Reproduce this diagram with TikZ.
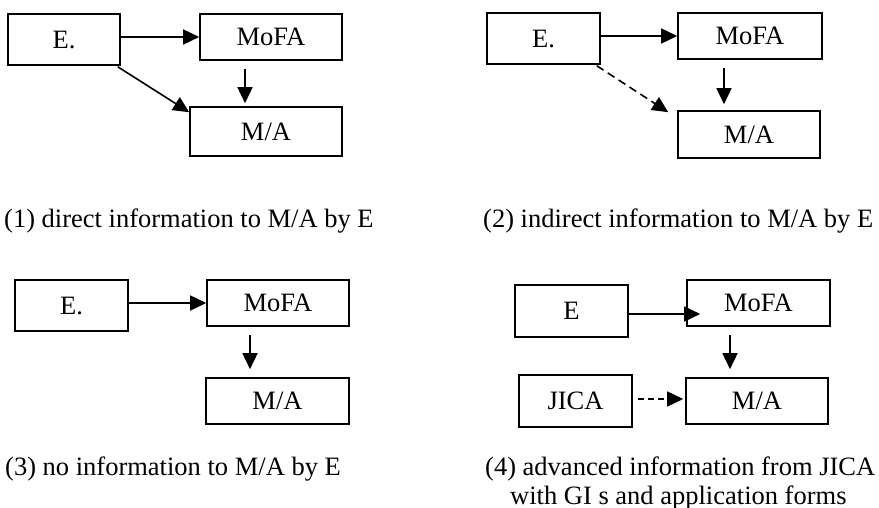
\documentclass[tikz,border=0pt]{standalone}
\usepackage{fontspec}
\setmainfont{Liberation Serif}
\usetikzlibrary{arrows.meta}
\begin{document}
\begin{tikzpicture}[x=1pt,y=1pt,
  box/.style={draw, line width=1.6pt, inner sep=0pt, text height=17.5pt, text depth=0pt,
              font=\fontsize{26.5}{30}\selectfont},
  captext/.style={anchor=base west, inner sep=0pt, font=\fontsize{26.5}{30}\selectfont},
  arr/.style={line width=1.6pt, -{Triangle[length=16pt,width=15pt]}},
  dasharr/.style={arr, dash pattern=on 8pt off 5pt},
  shortdasharr/.style={arr, dash pattern=on 6pt off 4pt}]
\useasboundingbox (0,0) rectangle (879,-508);

% (1)
\node[box, minimum width=112pt, minimum height=51pt] (E1) at (64,-39.5) {E.};
\node[box, minimum width=142pt, minimum height=46pt] (MoFA1) at (271,-37) {MoFA};
\node[box, minimum width=152pt, minimum height=49pt] (MA1) at (266,-131.5) {M/A};
\draw[arr] (E1.east |- MoFA1.west) -- (MoFA1.west);
\draw[arr] ([xshift=-26pt,yshift=-8pt]MoFA1.south) -- ([xshift=-21pt,yshift=3pt]MA1.north);
\draw[arr] ([shift={(-3pt,-1pt)}]E1.south east) -- ([yshift=-6pt]MA1.north west);
\node[captext] (c1) at (4,-228) {(1) direct information to M/A by E};

% (2)
\node[box, minimum width=113pt, minimum height=51pt] (E2) at (543.5,-38.5) {E.};
\node[box, minimum width=144pt, minimum height=46pt] (MoFA2) at (750,-36) {MoFA};
\node[box, minimum width=142pt, minimum height=47pt] (MA2) at (749,-134.5) {M/A};
\draw[arr] (E2.east |- MoFA2.west) -- (MoFA2.west);
\draw[arr] ([xshift=-26pt,yshift=-8pt]MoFA2.south) -- ([xshift=-25pt,yshift=6pt]MA2.north);
\draw[dasharr] ([shift={(-4pt,-1pt)}]E2.south east) -- ([shift={(-9pt,-2pt)}]MA2.north west);
\node[captext] (c2) at (483,-228) {(2) indirect information to M/A by E};

% (3)
\node[box, minimum width=113pt, minimum height=51pt] (E3) at (71.5,-305.5) {E.};
\node[box, minimum width=142pt, minimum height=46pt] (MoFA3) at (278,-303) {MoFA};
\node[box, minimum width=143pt, minimum height=46pt] (MA3) at (277.5,-401) {M/A};
\draw[arr] (E3.east |- MoFA3.west) -- (MoFA3.west);
\draw[arr] ([xshift=-28pt,yshift=-8pt]MoFA3.south) -- ([xshift=-27.5pt,yshift=8pt]MA3.north);
\node[captext] (c3) at (5,-475) {(3) no information to M/A by E};

% (4)
\node[box, minimum width=113pt, minimum height=52pt] (E4) at (571.5,-311) {E};
\node[box, minimum width=143pt, minimum height=46pt] (MoFA4) at (758.5,-303) {MoFA};
\node[box, minimum width=113pt, minimum height=52pt] (JICA) at (575.5,-401) {JICA};
\node[box, minimum width=142pt, minimum height=46pt] (MA4) at (757,-401) {M/A};
\draw[arr] ([yshift=-3pt]E4.east) -- ([shift={(14pt,-11pt)}]MoFA4.west);
\draw[arr] ([xshift=-28.5pt,yshift=-8pt]MoFA4.south) -- ([xshift=-27pt,yshift=8pt]MA4.north);
\draw[shortdasharr] ([shift={(5pt,2pt)}]JICA.east) -- ([shift={(-2pt,2pt)}]MA4.west);
\node[captext] (c4) at (485,-475) {(4) advanced information from JICA};
\node[captext] (c5) at (510,-504) {with GI s and application forms};
\end{tikzpicture}
\end{document}
